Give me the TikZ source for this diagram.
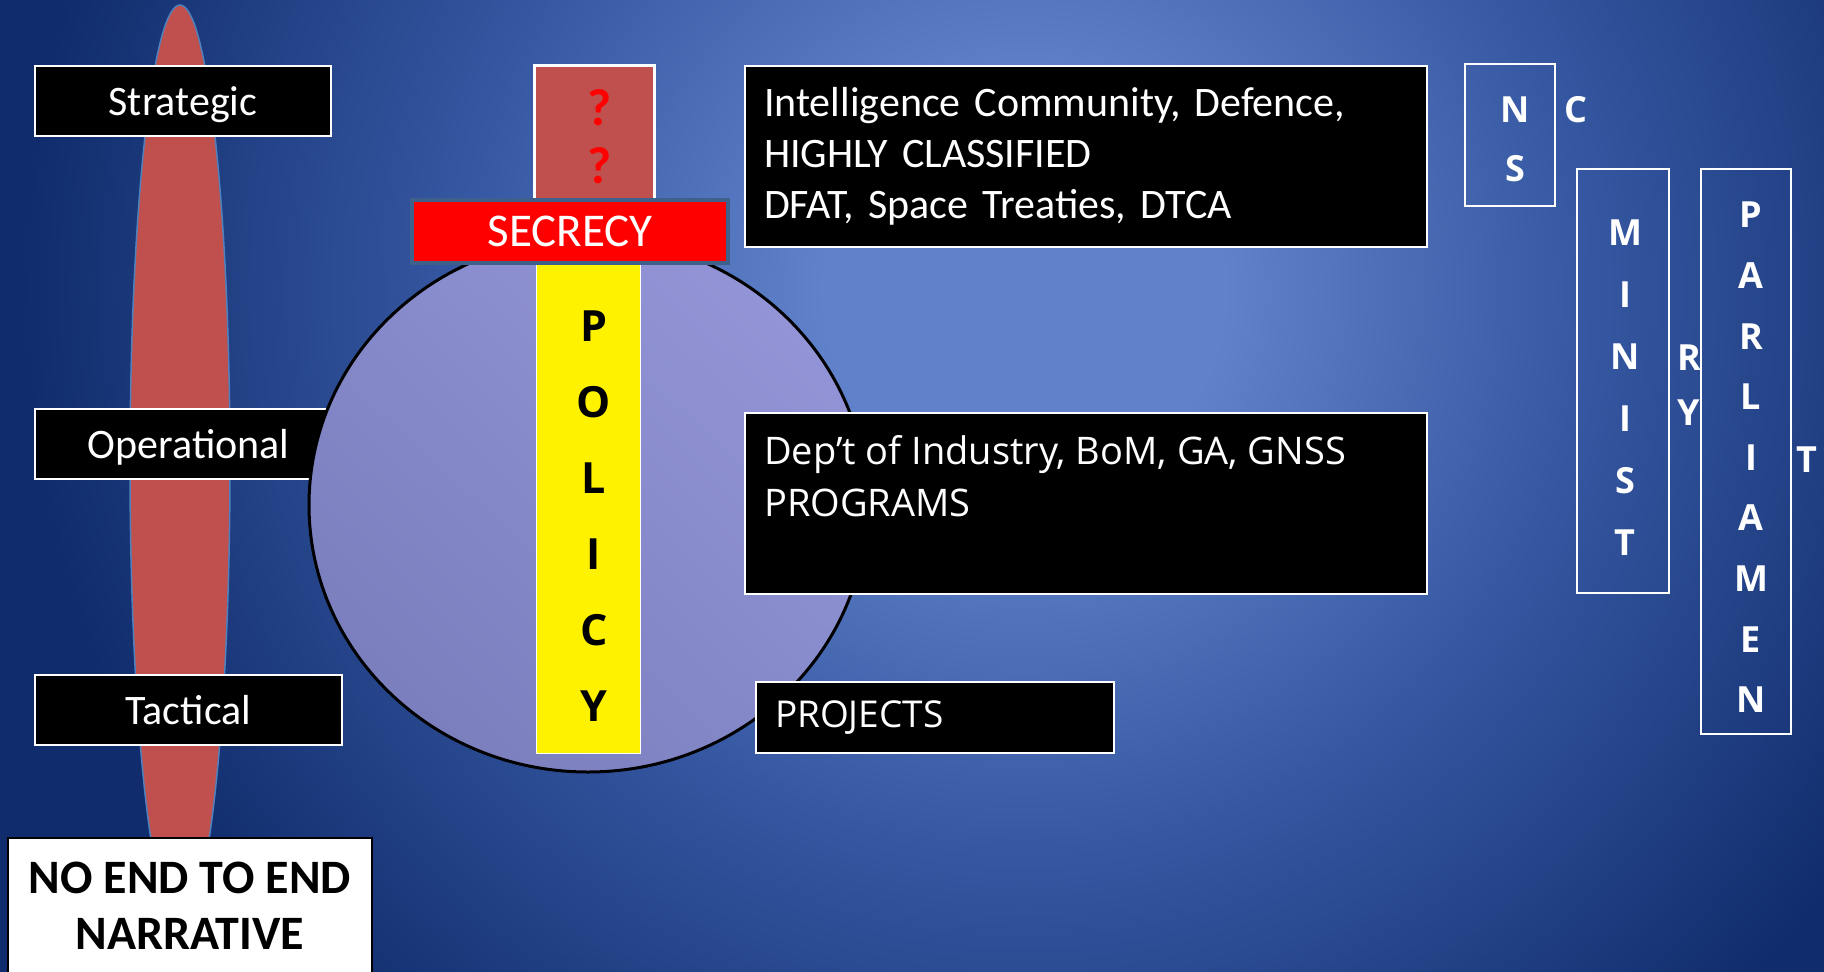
\documentclass[tikz,border=0pt]{standalone}
\usepackage{fontspec}
\setmainfont{Carlito}
\newfontfamily\opensans{Open Sans}
\usetikzlibrary{positioning,shadings}

\definecolor{bgLight}{RGB}{95,130,202}
\definecolor{bgMid}{RGB}{54,88,162}
\definecolor{bgDark}{RGB}{16,44,108}
\definecolor{ppRed}{RGB}{192,80,77}
\definecolor{spineEdge}{RGB}{79,129,189}
\definecolor{secEdge}{RGB}{64,96,140}
\definecolor{circDark}{RGB}{118,122,184}
\definecolor{circMid}{RGB}{134,138,202}
\definecolor{circLight}{RGB}{152,152,220}

\pgfdeclareradialshading{slideglow}{\pgfpoint{0bp}{0bp}}{color(0bp)=(bgLight); color(5bp)=(bgLight); color(14bp)=(bgMid); color(25bp)=(bgDark); color(50bp)=(bgDark)}

\tikzset{
  tagbox/.style={draw=white, line width=2pt, fill=black, text=white, inner sep=0pt,
    minimum height=70pt, text depth=0pt, font=\fontsize{42}{50}\selectfont},
  infobox/.style={draw=white, line width=2pt, fill=black, text=white, inner xsep=19pt,
    inner ysep=0pt, align=left},
  govbox/.style={draw=white, line width=1.5pt, inner sep=0pt},
  bigletter/.style={inner sep=0pt, font=\opensans\bfseries\fontsize{43}{43}\selectfont},
  govletter/.style={inner sep=0pt, text=white, font=\opensans\bfseries\fontsize{36}{36}\selectfont},
  query/.style={text=red, inner sep=0pt, font=\bfseries\fontsize{52}{52}\selectfont},
}

\begin{document}
\begin{tikzpicture}[x=1pt,y=-1pt]
\useasboundingbox (0,0) rectangle (1824,972);
\clip (0,0) rectangle (1824,972);
\fill[bgDark] (0,0) rectangle (1824,972);
\shade[shading=slideglow] (1024,290) circle (1000pt);

% levels
\draw[fill=ppRed, draw=spineEdge, line width=1.5pt] (180,465) ellipse [x radius=50pt, y radius=460pt];
\node[tagbox, minimum width=296pt] (strategic) at (183,101) {Strategic};
\node[tagbox, minimum width=307pt] (operational) at (188.5,444) {Operational};
\node[tagbox, minimum width=307pt] (tactical) at (188.5,710) {Tactical};
\node[draw=black, line width=2pt, fill=white, minimum width=364pt, minimum height=136pt,
  align=center, font=\bfseries\fontsize{48}{56}\selectfont] (narrative) at (190,906) {NO END TO END\\NARRATIVE};

% policy
\shade[draw=black, line width=3pt, lower left=circDark, upper right=circLight, upper left=circMid,
  lower right=circMid] (588,505) ellipse [x radius=279pt, y radius=267pt];
\node[draw=white, line width=3pt, fill=ppRed, minimum width=120pt, minimum height=160pt,
  anchor=north] (unknown) at (594,64) {};
\node[query] (unknown-1) at (600,108) {?};
\node[query] (unknown-2) at (600,166) {?};
\node[draw=white, line width=1pt, fill=yellow, minimum width=104pt, minimum height=491pt] (policy) at (588,507.5) {};
\node[draw=secEdge, line width=4pt, fill=red, text=white, minimum width=316pt, minimum height=63pt,
  inner sep=0pt, font=\fontsize{47}{47}\selectfont] (secrecy) at (570,231.5) {SECRECY};
\foreach \ch [count=\i from 0] in {P,O,L,I,C,Y}
  \node[bigletter] (policy-\i) at (594,{326+76*\i}) {\ch};

% agencies
\node[infobox, text width=644pt, minimum height=181pt, font=\fontsize{42}{51}\selectfont] (intel) at (1086,156.5)
  {Intelligence Community, Defence,\\HIGHLY CLASSIFIED\\DFAT, Space Treaties, DTCA};
\node[infobox, minimum width=682pt, minimum height=181pt] (dept) at (1086,503.5) {};
\node[anchor=north west, inner sep=0pt, text=white, align=left, font=\opensans\fontsize{38}{52}\selectfont]
  (depttext) at (764,435) {Dep’t of Industry, BoM, GA, GNSS\\PROGRAMS};
\node[infobox, text width=320pt, minimum height=71pt, font=\opensans\fontsize{37}{37}\selectfont] (projects) at (935,717.5) {PROJECTS};

% government
\node[govbox, minimum width=90pt, minimum height=142pt] (nsc) at (1510,135) {};
\node[govbox, minimum width=92pt, minimum height=424pt] (ministry) at (1623,381) {};
\node[govbox, minimum width=90pt, minimum height=565pt] (parliament) at (1746,451.5) {};
\foreach \ch [count=\i from 0] in {N,S}
  \node[govletter] (nsc-\i) at (1515,{110+59*\i}) {\ch};
\node[govletter] (nsc-c) at (1576,110) {C};
\foreach \ch [count=\i from 0] in {M,I,N,I,S,T}
  \node[govletter] (ministry-\i) at (1625,{233+62*\i}) {\ch};
\node[govletter] (ministry-r) at (1689,358) {R};
\node[govletter] (ministry-y) at (1689,413) {Y};
\foreach \ch [count=\i from 0] in {P,A,R,L,I,A,M,E,N}
  \node[govletter] (parliament-\i) at (1751,{215+60.6*\i}) {\ch};
\node[govletter] (parliament-t) at (1807,460) {T};
\end{tikzpicture}
\end{document}
